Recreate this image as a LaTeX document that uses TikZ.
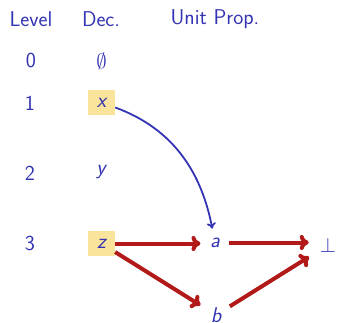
\documentclass[tikz,border=0pt]{standalone}
\usetikzlibrary{arrows.meta}
\definecolor{sblue}{RGB}{51,51,179}
\definecolor{sred}{RGB}{178,26,26}
\definecolor{syellow}{RGB}{250,228,155}
\begin{document}
\begin{tikzpicture}[x=1pt,y=-1pt,
  every node/.style={text=sblue,font=\fontsize{21.4}{25}\selectfont\sffamily},
  lbl/.style={anchor=center,inner sep=0pt},
  hdr/.style={anchor=base,inner sep=0pt},
  dec/.style={fill=syellow,minimum width=27pt,minimum height=25pt,inner sep=0pt},
  redarr/.style={draw=sred,line width=4pt,-{Computer Modern Rightarrow[length=9pt,width=15pt]}},
  bluearr/.style={draw=sblue,line width=1.8pt,-{Computer Modern Rightarrow[length=6pt,width=9pt]}}]
\useasboundingbox (0,0) rectangle (337,322);
% headers
\node[hdr] (hlevel) at (31,26) {Level};
\node[hdr] (hdec) at (101,26) {Dec.};
\node[hdr] (hunit) at (215,24) {Unit Prop.};
% level numbers
\node[lbl] (l0) at (31,60.5) {0};
\node[lbl] (l1) at (30,103.5) {1};
\node[lbl] (l2) at (30,173) {2};
\node[lbl] (l3) at (30,243) {3};
% decisions
\node[lbl] (empty) at (101.5,61) {$\emptyset$};
\node[dec] (x) at (101.5,102.5) {\itshape x};
\node[lbl] (y) at (101,172) {\itshape y};
\node[dec] (z) at (101.5,243.5) {\itshape z};
% unit propagation
\node[lbl] (a) at (215,242.5) {\itshape a};
\node[lbl] (b) at (216,315) {\itshape b};
\node[lbl] (bot) at (328,245) {$\bot$};
% connectors
\draw[bluearr,shorten >=9pt] (x) to[out=-20,in=101] (a);
\draw[redarr,shorten >=9.5pt] (z.east) -- (a.west |- z.east);
\draw[redarr,shorten <=8.5pt,shorten >=11pt] (a.east) -- (bot.west |- a.east);
\draw[redarr,shorten >=12pt] (z) -- (b);
\draw[redarr,shorten <=10pt,shorten >=12.5pt] (b) -- (bot);
\end{tikzpicture}
\end{document}
